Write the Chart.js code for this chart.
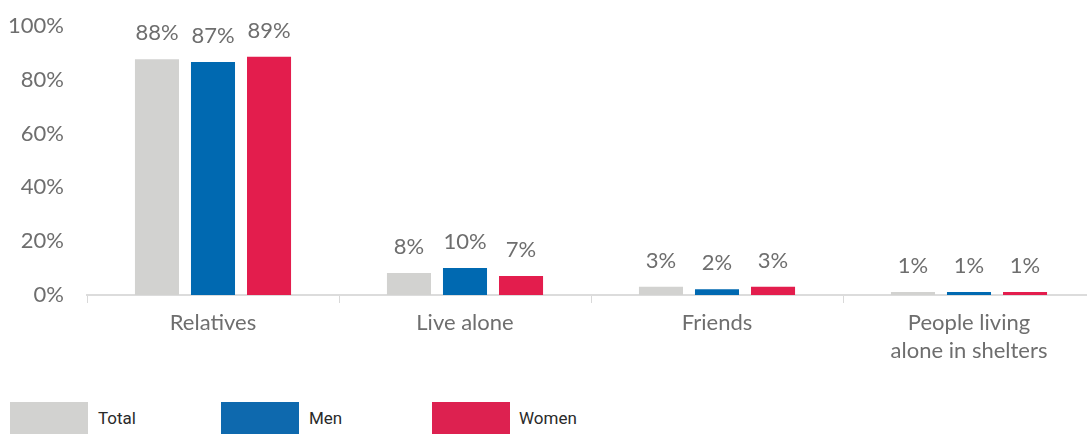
<!DOCTYPE html>
<html>
<head>
<meta charset="utf-8">
<script src="https://cdn.jsdelivr.net/npm/chart.js@4/dist/chart.umd.min.js"></script>
<style>
  html, body { margin:0; padding:0; background:#fff; overflow:hidden; width:1087px; height:434px; }
  #wrap { position:absolute; left:0; top:0; width:1095px; height:390px; }
  .leg { position:absolute; top:402px; height:40px; width:78px; }
  .legtxt { position:absolute; top:408px; font-family:Roboto, sans-serif; font-size:17px; color:#2a2a2a; line-height:20px; }
</style>
</head>
<body>
<div id="wrap"><canvas id="c" width="1095" height="390"></canvas></div>
<div class="leg" style="left:10px;background:#d2d2d0"></div><div class="legtxt" style="left:98px">Total</div>
<div class="leg" style="left:221px;background:#0e69ae"></div><div class="legtxt" style="left:309px">Men</div>
<div class="leg" style="left:432px;background:#dd2150"></div><div class="legtxt" style="left:519px">Women</div>
<script>
const categories = ['Relatives', 'Live alone', 'Friends', ['People living', 'alone in shelters']];
const seriesNames = ['Total', 'Men', 'Women'];
const totalValues = [87.6, 8.2, 3.1, 1.1];
const menValues = [86.6, 10.0, 2.1, 1.1];
const womenValues = [88.6, 7.1, 3.1, 1.1];
const yTicks = [0, 20, 40, 60, 80, 100];
const colors = ['#d2d2d0', '#0069b1', '#e31d4d'];

const FONT = 'Lato, "Open Sans", sans-serif';
const TXT = '#6e6e6e';

const labelPlugin = {
  id: 'vlabels',
  afterDatasetsDraw(chart) {
    const ctx = chart.ctx;
    ctx.save();
    ctx.font = '22px ' + FONT;
    ctx.fillStyle = TXT;
    ctx.textAlign = 'center';
    ctx.textBaseline = 'middle';
    chart.data.datasets.forEach((ds, i) => {
      chart.getDatasetMeta(i).data.forEach((bar, j) => {
        ctx.fillText(Math.round(ds.data[j]) + '%', bar.x, bar.y - 26);
      });
    });
    ctx.restore();
  }
};

new Chart(document.getElementById('c'), {
  type: 'bar',
  data: {
    labels: categories,
    datasets: [
      { label: seriesNames[0], data: totalValues, backgroundColor: colors[0] },
      { label: seriesNames[1], data: menValues, backgroundColor: colors[1] },
      { label: seriesNames[2], data: womenValues, backgroundColor: colors[2] }
    ]
  },
  options: {
    responsive: false,
    animation: false,
    devicePixelRatio: 1,
    layout: { padding: { top: 26, left: 0, right: 0, bottom: 0 } },
    datasets: { bar: { categoryPercentage: 0.667, barPercentage: 0.786 } },
    plugins: { legend: { display: false }, tooltip: { enabled: false } },
    scales: {
      x: {
        afterFit(s) { s.height = 95; },
        grid: { display: true, drawOnChartArea: false, drawTicks: true, tickLength: 8, color: '#d9d9d9', lineWidth: 1 },
        border: { display: true, color: '#dcdcdc', width: 2 },
        ticks: { font: { family: FONT, size: 22, lineHeight: 1.27 }, color: TXT, padding: 6, maxRotation: 0 }
      },
      y: {
        min: 0, max: 100,
        afterFit(s) { s.width = 87; s.paddingTop = 0; s.paddingBottom = 0; },
        afterBuildTicks(s) { s.ticks = yTicks.map(v => ({ value: v })); },
        grid: { display: false, drawTicks: false },
        border: { display: false },
        ticks: { font: { family: FONT, size: 22 }, color: TXT, padding: 23, callback: v => v + '%' }
      }
    }
  },
  plugins: [labelPlugin]
});
</script>
</body>
</html>
